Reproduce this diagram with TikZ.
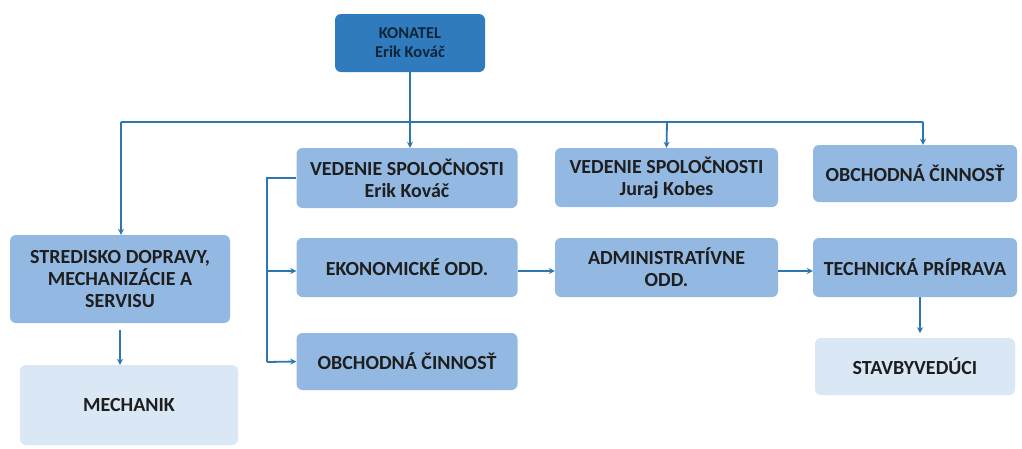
\documentclass[tikz,border=0pt]{standalone}
\usepackage{fontspec}
\setmainfont{Carlito}
\usetikzlibrary{arrows.meta}
\definecolor{darkb}{HTML}{2F7BBE}
\definecolor{midb}{HTML}{93B9E3}
\definecolor{lightb}{HTML}{DAE7F5}
\definecolor{linec}{HTML}{2E77AE}
\definecolor{txt}{HTML}{1E1E1E}
\begin{document}
\begin{tikzpicture}[x=1pt,y=-1pt,
  box/.style={rounded corners=6pt, draw=none, align=center, font=\bfseries\fontsize{20}{22}\selectfont, text=txt},
  conn/.style={draw=linec, line width=1.8pt, -{Stealth[length=6pt,width=6pt]}},
  plain/.style={draw=linec, line width=1.8pt}]
\useasboundingbox (0,0) rectangle (1022,448);
\fill[white] (0,0) rectangle (1022,448);
% boxes
\node[box, fill=darkb, minimum width=150pt, minimum height=58pt, text=black!70!darkb, font=\bfseries\fontsize{16.5}{19}\selectfont] (kon) at (410,43) {KONATEL\\Erik Kováč};
\node[box, fill=midb, minimum width=221pt, minimum height=60pt] (ved1) at (407,178) {VEDENIE SPOLOČNOSTI\\Erik Kováč};
\node[box, fill=midb, minimum width=223pt, minimum height=59pt] (ved2) at (666.5,177.5) {VEDENIE SPOLOČNOSTI\\Juraj Kobes};
\node[box, fill=midb, minimum width=204pt, minimum height=57pt] (obch1) at (915,173.5) {OBCHODNÁ ČINNOSŤ};
\node[box, fill=midb, minimum width=220pt, minimum height=88pt] (stred) at (120,279) {STREDISKO DOPRAVY,\\MECHANIZÁCIE A\\SERVISU};
\node[box, fill=midb, minimum width=221pt, minimum height=59pt] (ekon) at (407,267.5) {EKONOMICKÉ ODD.};
\node[box, fill=midb, minimum width=223pt, minimum height=59pt] (adm) at (666.5,267.5) {ADMINISTRATÍVNE\\ODD.};
\node[box, fill=midb, minimum width=204pt, minimum height=59pt] (tech) at (915,267.5) {TECHNICKÁ PRÍPRAVA};
\node[box, fill=midb, minimum width=221pt, minimum height=57pt] (obch2) at (407,361.5) {OBCHODNÁ ČINNOSŤ};
\node[box, fill=lightb, minimum width=218pt, minimum height=80pt] (mech) at (129,405) {MECHANIK};
\node[box, fill=lightb, minimum width=200pt, minimum height=57pt] (stav) at (915,366.5) {STAVBYVEDÚCI};
% connectors
\coordinate (hl) at (121,122);
\coordinate (hr) at (923,122);
\draw[conn] (kon.south) -- (kon.south |- ved1.north);
\draw[plain] (hl) -- (hr);
\draw[conn] (hl) -- (hl |- stred.north);
\draw[conn] (667,122) -- (ved2.north);
\draw[conn] (hr) -- (hr |- obch1.north);
\coordinate (bt) at (267,178);
\coordinate (bb) at (267,362);
\draw[plain] (ved1.west) -- (bt) -- (bb);
\draw[conn] (bb) -- (obch2.west);
\draw[conn] (267,271) -- (ekon.west |- 0,271);
\draw[conn] (ekon.east |- 0,271) -- (adm.west |- 0,271);
\draw[conn] (adm.east |- 0,271) -- (tech.west |- 0,271);
\draw[conn] (stred.south) ++(0,7) -- (stred.south |- mech.north);
\draw[conn] (tech.south) ++(5,0) -- ++(0,36);
\end{tikzpicture}
\end{document}
